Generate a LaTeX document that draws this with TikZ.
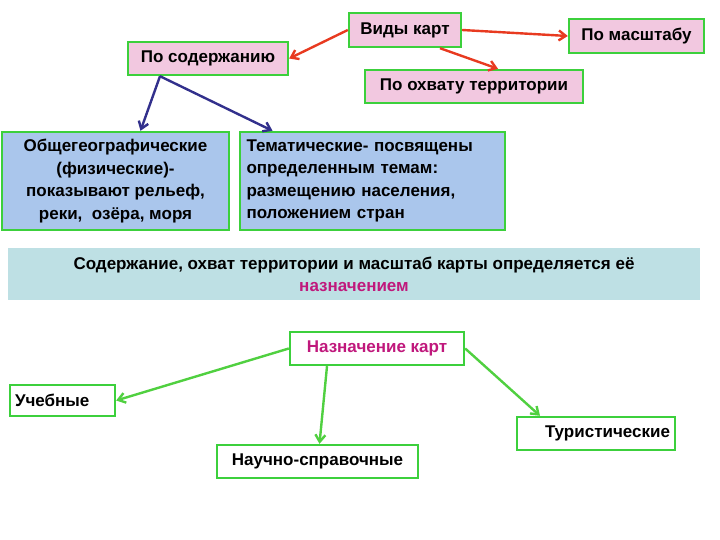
\documentclass[tikz,border=0pt]{standalone}
\usepackage{fontspec}
\setmainfont{Liberation Sans}
\usetikzlibrary{arrows.meta}
\definecolor{gbord}{HTML}{3CD03C}
\definecolor{pinkf}{HTML}{F2C8E0}
\definecolor{bluef}{HTML}{AAC6EC}
\definecolor{banner}{HTML}{BEE0E4}
\definecolor{redarr}{HTML}{E83A20}
\definecolor{bluearr}{HTML}{32308C}
\definecolor{greenarr}{HTML}{50D040}
\definecolor{mag}{HTML}{C0187C}
\tikzset{
  box/.style={draw=gbord, line width=2.4pt, inner sep=3pt, font=\fontsize{17}{19}\bfseries},
  topbox/.style={box, fill=pinkf},
  bluebox/.style={box, fill=bluef, font=\fontsize{17}{22.5}\bfseries},
  botbox/.style={box, fill=white},
  rarr/.style={draw=redarr, line width=2.4pt, -{Straight Barb[length=7pt,width=10pt]}},
  barr/.style={draw=bluearr, line width=2.4pt, -{Straight Barb[length=7pt,width=10pt]}},
  garr/.style={draw=greenarr, line width=2.4pt, -{Straight Barb[length=7pt,width=10pt]}},
}
\begin{document}
\begin{tikzpicture}[x=1pt,y=-1pt]
\useasboundingbox (0,0) rectangle (720,540);
\node[topbox, minimum width=112pt, minimum height=34pt] (vk) at (405,30) {Виды карт};
\node[topbox, minimum width=135pt, minimum height=34pt] (pm) at (636.5,36) {По масштабу};
\node[topbox, minimum width=160pt, minimum height=33pt] (ps) at (208,58.5) {По содержанию};
\node[topbox, minimum width=218pt, minimum height=33pt] (po) at (474,86.5) {По охвату территории};
\node[bluebox, minimum width=227pt, minimum height=98pt, align=center] (og) at (115.5,181) {Общегеографические\\(физические)-\\показывают рельеф,\\реки,\ \ озёра, моря};
\node[bluebox, minimum width=265pt, minimum height=98pt, align=left, text width=252pt] (tm) at (372.5,181) {Тематические- посвящены\\определенным темам:\\размещению населения,\\положением стран};
\node[fill=banner, minimum width=692pt, minimum height=52pt, align=center, inner sep=0pt, font=\fontsize{17}{22}\bfseries] (bn) at (354,274) {Содержание, охват территории и масштаб карты определяется её\\\textcolor{mag}{назначением}};
\node[botbox, minimum width=174pt, minimum height=33pt, text=mag] (nk) at (377,348.5) {Назначение карт};
\node[botbox, minimum width=105pt, minimum height=31pt, align=left, text width=95pt] (ub) at (62.5,400.5) {Учебные};
\node[botbox, minimum width=158pt, minimum height=33pt, align=right, text width=148pt] (tu) at (596,433.5) {Туристические};
\node[botbox, minimum width=201pt, minimum height=33pt] (ns) at (317.5,461.5) {Научно-справочные};
\draw[rarr] (vk.west) -- (ps.east);
\draw[rarr] (vk.east) -- (pm.west);
\draw[rarr] ([xshift=35pt]vk.south) -- ([xshift=24pt]po.north);
\draw[barr] ([xshift=-48pt]ps.south) -- ([xshift=25pt]og.north);
\draw[barr] ([xshift=-48pt]ps.south) -- ([xshift=-100pt]tm.north);
\draw[garr] (nk.west) -- (ub.east);
\draw[garr] ([xshift=-50pt]nk.south) -- ([xshift=2pt]ns.north);
\draw[garr] (nk.east) -- ([xshift=-56pt]tu.north);
\end{tikzpicture}
\end{document}
